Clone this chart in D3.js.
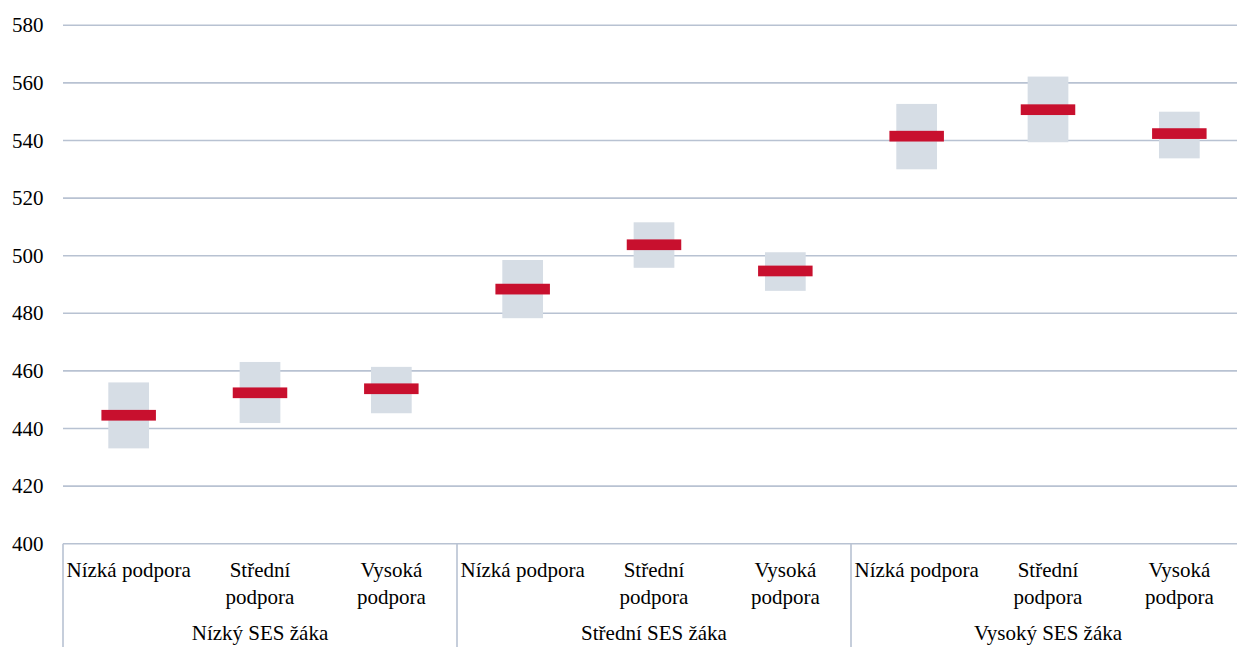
<!DOCTYPE html>
<html><head><meta charset="utf-8">
<script src="https://cdn.jsdelivr.net/npm/d3@7"></script>
<style>body{margin:0;background:#fff}svg{display:block}</style>
</head><body><svg id="c" width="1237" height="659" font-family="'Liberation Serif', 'DejaVu Serif', 'Times New Roman', Times, serif"></svg>
<script>
const groups = ["Nízký SES žáka", "Střední SES žáka", "Vysoký SES žáka"];
const supports = ["Nízká podpora", "Střední podpora", "Vysoká podpora"];
const means = [444.6, 452.4, 453.8, 488.4, 503.8, 494.7, 541.5, 550.7, 542.4];
const lower = [433.1, 441.9, 445.3, 478.3, 495.8, 487.8, 530.0, 539.4, 533.8];
const upper = [456.0, 463.1, 461.4, 498.5, 511.6, 501.2, 552.7, 562.2, 550.0];
const yTicks = [400, 420, 440, 460, 480, 500, 520, 540, 560, 580];

const rows = [];
groups.forEach((g, gi) => supports.forEach((s, si) => {
  const i = gi * supports.length + si;
  rows.push({key: gi + "|" + si, group: g, label: s, mean: means[i], lo: lower[i], hi: upper[i]});
}));

const svg = d3.select("#c");
const L = 63, R = 1245, T = 25.3, B = 543.7;
const y = d3.scaleLinear().domain([400, 580]).range([B, T]);
const x = d3.scaleBand().domain(rows.map(d => d.key)).range([L, R]);
const gx = d3.scaleBand().domain(groups).range([L, R]);
const gridC = "#b8c2d2";

svg.append("g").selectAll("line").data(yTicks.filter(t => t > 400)).join("line")
  .attr("x1", L).attr("x2", R).attr("y1", d => y(d)).attr("y2", d => y(d))
  .attr("stroke", gridC).attr("stroke-width", 1.6);

svg.append("g").selectAll("text").data(yTicks).join("text")
  .attr("x", 43.5).attr("y", d => y(d) + 7).attr("text-anchor", "end")
  .attr("font-size", 21).attr("fill", "#000").text(d => d);

const bw = x.bandwidth() * 0.31;
svg.append("g").selectAll("rect").data(rows).join("rect")
  .attr("x", d => x(d.key) + x.bandwidth() / 2 - bw / 2).attr("width", bw)
  .attr("y", d => y(d.hi)).attr("height", d => y(d.lo) - y(d.hi))
  .attr("fill", "#d6dde5");

const mw = x.bandwidth() * 0.415, mh = 10.7;
svg.append("g").selectAll("rect").data(rows).join("rect")
  .attr("x", d => x(d.key) + x.bandwidth() / 2 - mw / 2).attr("width", mw)
  .attr("y", d => y(d.mean) - mh / 2).attr("height", mh)
  .attr("fill", "#c8102e");

svg.append("line").attr("x1", L).attr("x2", R).attr("y1", B).attr("y2", B)
  .attr("stroke", gridC).attr("stroke-width", 1.6);
const divs = groups.map(g => gx(g)).concat([R]);
svg.append("g").selectAll("line").data(divs).join("line")
  .attr("x1", d => d).attr("x2", d => d).attr("y1", B).attr("y2", 647)
  .attr("stroke", gridC).attr("stroke-width", 1.6);

const cat = svg.append("g").selectAll("text").data(rows).join("text")
  .attr("font-size", 21).attr("text-anchor", "middle").attr("fill", "#000")
  .attr("x", d => x(d.key) + x.bandwidth() / 2).attr("y", 577);
cat.each(function(d) {
  const t = d3.select(this);
  t.text(d.label);
  if (this.getComputedTextLength() > x.bandwidth() - 2) {
    t.text(null);
    d.label.split(" ").forEach((w, i) => {
      t.append("tspan").attr("x", x(d.key) + x.bandwidth() / 2)
        .attr("dy", i === 0 ? 0 : 26.5).text(w);
    });
  }
});

svg.append("g").selectAll("text").data(groups).join("text")
  .attr("font-size", 21).attr("text-anchor", "middle").attr("fill", "#000")
  .attr("x", d => gx(d) + gx.bandwidth() / 2).attr("y", 640).text(d => d);
</script></body></html>
